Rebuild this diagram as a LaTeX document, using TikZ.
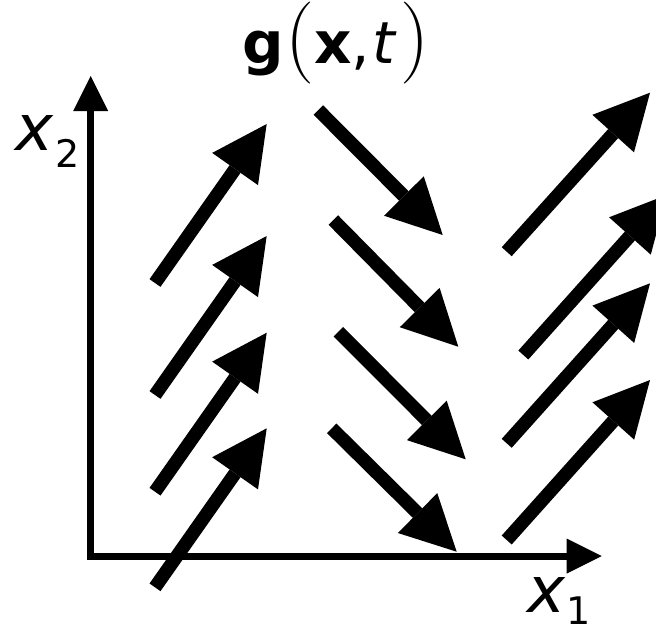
\documentclass[tikz,border=0pt]{standalone}
\usepackage{fontspec}
\newfontfamily\dv{DejaVu Sans}
\usetikzlibrary{arrows.meta}
\begin{document}
\begin{tikzpicture}[x=0.5pt,y=-0.5pt,
  vec/.style={line width=6.7pt,-{Triangle[length=27.5pt,width=28pt,line width=0pt]}},
  axis/.style={line width=3.5pt,{Triangle[length=17.5pt,width=17.5pt,line width=0pt]}-{Triangle[length=17.5pt,width=17.5pt,line width=0pt]}},
  lbl/.style={font=\dv\itshape\fontsize{32pt}{32pt}\selectfont, inner sep=0pt},
  sub/.style={font=\dv\fontsize{19pt}{19pt}\selectfont, inner sep=0pt},
  title/.style={font=\dv\fontsize{29pt}{30pt}\selectfont, inner sep=0pt}
]
\useasboundingbox (0,0) rectangle (656,633);
\clip (0,0) rectangle (656,633);
% axes
\coordinate (O) at (90.7,556);
\coordinate (xe) at (601.7,556);
\coordinate (ye) at (90.7,76);
\draw[axis] (xe) -- (O) -- (ye);
% labels
\node[lbl,anchor=base west] (x2) at (15,150) {x};
\node[sub,anchor=base west] (s2) at (55,167) {2};
\node[lbl,anchor=base west] (x1) at (527,612) {x};
\node[sub,anchor=base west] (s1) at (566,624) {1};
\node[title,anchor=base] (g) at (336,63) {\textbf{g}\kern1pt{\rmfamily\fontsize{41pt}{41pt}\selectfont(}\textbf{x},\kern1pt\textit{t}\kern2pt{\rmfamily\fontsize{41pt}{41pt}\selectfont)}};
% left column
\foreach \i/\ty in {1/124,2/236,3/332.7,4/428.3}{
  \coordinate (L\i h) at (266.7,\ty);
  \coordinate (L\i t) at (155,\ty+159);
  \draw[vec] (L\i t) -- (L\i h);
}
% middle column
\coordinate (M1t) at (318.3,110);   \coordinate (M1h) at (442.7,235);
\coordinate (M2t) at (333.3,220);   \coordinate (M2h) at (458.3,346.7);
\coordinate (M3t) at (338.3,331.7); \coordinate (M3h) at (465.7,459.3);
\coordinate (M4t) at (331.7,428.3); \coordinate (M4h) at (456.7,551.7);
\foreach \i in {1,2,3,4}{\draw[vec] (M\i t) -- (M\i h);}
% right column
\coordinate (R1t) at (506.7,251.7); \coordinate (R1h) at (650,92.7);
\coordinate (R2t) at (523.3,355);   \coordinate (R2h) at (666.6,195);
\coordinate (R3t) at (506.7,443.3); \coordinate (R3h) at (650,283.3);
\coordinate (R4t) at (506.7,540);   \coordinate (R4h) at (650,380);
\foreach \i in {1,2,3,4}{\draw[vec] (R\i t) -- (R\i h);}
\end{tikzpicture}
\end{document}
